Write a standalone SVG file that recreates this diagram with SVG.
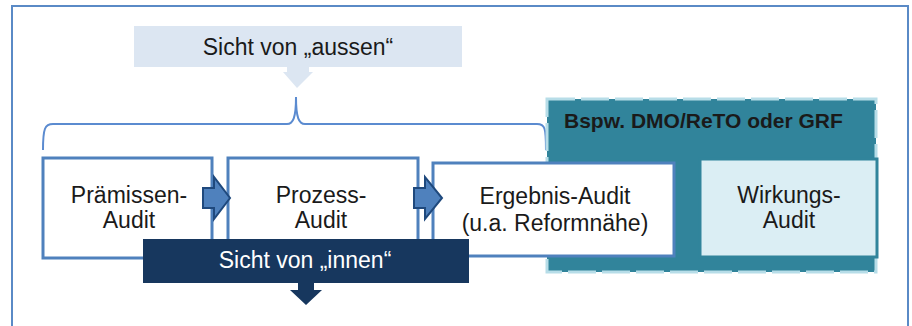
<svg xmlns="http://www.w3.org/2000/svg" width="912" height="326" viewBox="0 0 912 326">
<style>
text{font-family:"Liberation Sans",Arial,sans-serif;fill:#1a1a1a;}
.t{font-size:23px;text-anchor:middle;}
.box{fill:#ffffff;stroke:#4f81bd;stroke-width:3;}
.chev{fill:#4f81bd;stroke:#1f497d;stroke-width:2;stroke-linejoin:miter;}
</style>
<rect x="12" y="6" width="896" height="340" fill="#ffffff" stroke="#5a8ac6" stroke-width="2"/>
<g id="aussen">
<rect x="134" y="26" width="328" height="41" fill="#dce6f2"/>
<polygon points="287,66 309,66 309,72 313,72 297,88 283,72 287,72" fill="#dce6f2"/>
<text class="t" x="298" y="55">Sicht von „aussen“</text>
</g>
<g id="connectors">
<path d="M43,150 C43,128 45,124 53,124 L287,124 C293,124 296,118 296,97 C296,118 299,124 305,124 L537,124 C545,124 546,128 546,150" fill="none" stroke="#5b8bd0" stroke-width="2"/>
</g>
<g id="bspw">
<rect x="547" y="99" width="329" height="173" fill="#31849b" stroke="#b7dde8" stroke-width="3" stroke-dasharray="28 6"/>
<text x="564" y="128" style="font-size:21px;font-weight:bold;">Bspw. DMO/ReTO oder GRF</text>
</g>
<g id="praemissen">
<rect class="box" x="43" y="158" width="169" height="100"/>
<text class="t" x="129" y="203">Prämissen-</text>
<text class="t" x="129" y="228">Audit</text>
</g>
<g id="prozess">
<rect class="box" x="228" y="158" width="190" height="100"/>
<text class="t" x="321" y="203">Prozess-</text>
<text class="t" x="321" y="228">Audit</text>
</g>
<g id="ergebnis">
<rect class="box" x="433" y="163" width="241" height="93"/>
<text class="t" x="555" y="204">Ergebnis-Audit</text>
<text class="t" x="555" y="231">(u.a. Reformnähe)</text>
</g>
<g id="wirkung">
<rect x="700" y="159" width="177" height="98" fill="#dbeef4" stroke="#31849b" stroke-width="3"/>
<text class="t" x="789" y="203">Wirkungs-</text>
<text class="t" x="789" y="228">Audit</text>
</g>
<g id="arrows">
<polygon class="chev" points="203,188 214,188 214,177 230,198 214,219 214,208 203,208"/>
<polygon class="chev" points="414,188 425,188 425,177 442,198 425,219 425,208 414,208"/>
</g>
<g id="innen">
<rect x="143" y="239" width="326" height="44" fill="#17375e"/>
<polygon points="298,282 314,282 314,290 322,290 306,305 290,290 298,290" fill="#17375e"/>
<text class="t" x="305" y="268" style="fill:#ffffff;">Sicht von „innen“</text>
</g>
</svg>
